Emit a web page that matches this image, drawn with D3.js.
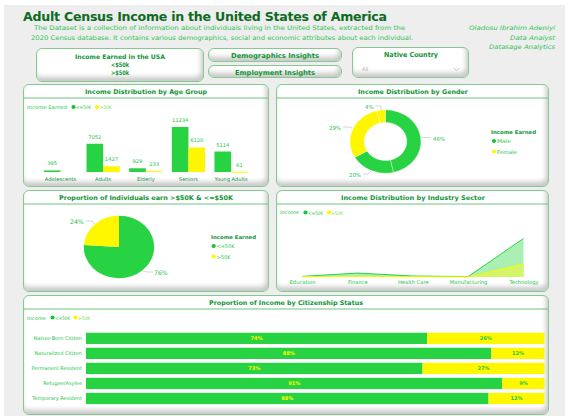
<!DOCTYPE html>
<html><head><meta charset="utf-8">
<script src="https://cdn.jsdelivr.net/npm/d3@7/dist/d3.min.js"></script>
<style>
html,body{margin:0;padding:0;background:#fff;width:577px;height:418px;overflow:hidden}
#wrap{position:relative;width:577px;height:418px}
.bg{position:absolute;left:4px;top:5px;width:561px;height:411px;background:#eeeeee}
.card{position:absolute;box-sizing:border-box;background:#fff;border:1px solid #86c892;border-radius:6px;box-shadow:inset -2px -4px 5px rgba(0,0,0,.22)}
svg{position:absolute;left:0;top:0}
text{font-family:"Comic Sans MS","DejaVu Sans",sans-serif}
</style></head><body><div id="wrap"><div class="bg"></div></div>
<script>
const GREEN="#28d343", YELLOW="#fff700", DARK="#0b6b1f", MID="#0f9436", LIGHT="#25c648";

const ageGroups=["Adolescents","Adults","Elderly","Seniors","Young Adults"];
const ageLow=[395,7052,929,11234,5114];
const ageHigh=[null,1427,233,6120,61];

const genderLabels=["46%","20%","29%","4%"];
const genderValues=[46.4,20.3,29.3,4.0];
const genderGroups=["Male","Male","Female","Female"];

const shareLabels=["<=50K",">50K"];
const shareValues=[76,24];

const sectors=["Education","Finance","Health Care","Manufacturing","Technology"];
const sectorLow=[150,1000,250,100,9800];
const sectorHigh=[50,180,60,30,3300];

const statuses=["Native-Born Citizen","Naturalized Citizen","Permanent Resident","Refugee/Asylee","Temporary Resident"];
const statusLow=[74.4,88.4,73.4,90.8,87.8];
const statusHigh=[25.6,11.6,26.6,9.2,12.2];

const wrap=d3.select("#wrap");
function card(x,y,w,h){wrap.append("div").attr("class","card").style("left",x+"px").style("top",y+"px").style("width",w+"px").style("height",h+"px");}
[[36,48,168,34],[208,48,134,14],[208,65,134,13],[352,47,117,31],[23,84,246,103],[276,84,273,103],[23,190,246,102],[276,190,273,102],[23,295,526,120]].forEach(c=>card(...c));

const svg=wrap.append("svg").attr("width",577).attr("height",418);
function T(s,x,y,size,fill,o={}){
  const t=svg.append("text").attr("x",x).attr("y",y).attr("font-size",size).attr("fill",fill)
   .attr("text-anchor",o.a||"start").attr("font-weight",o.b?"bold":"normal").attr("font-style",o.i?"italic":"normal").text(s);
  if(o.w){t.attr("textLength",o.w).attr("lengthAdjust",o.s?"spacing":"spacingAndGlyphs");}
  return t;
}
function hline(x1,x2,y,c,w){svg.append("line").attr("x1",x1).attr("x2",x2).attr("y1",y).attr("y2",y).attr("stroke",c).attr("stroke-width",w||1);}
function dot(x,y,c){svg.append("circle").attr("cx",x).attr("cy",y).attr("r",2.1).attr("fill",c);}

T("Adult Census Income in the United States of America",205,21,12.6,DARK,{a:"middle",b:1,w:364,s:1});
T("The Dataset is a collection of information about individuals living in the United States, extracted from the",219.5,30,6.3,"#2fc455",{a:"middle",w:371});
T("2020 Census database. It contains various demographics, social and economic attributes about each individual.",222,39.5,6.3,"#2fc455",{a:"middle",w:382});
T("Oladosu Ibrahim Adeniyi",555,30,6.2,"#2fc455",{a:"end",i:1,w:86});
T("Data Analyst",555,39.5,6.2,"#2fc455",{a:"end",i:1,w:45});
T("Datasage Analytics",555,49,6.2,"#2fc455",{a:"end",i:1,w:66});

T("Income Earned in the USA",120,59,6.2,MID,{a:"middle",b:1,w:90});
T("<$50k",120,67,6.2,MID,{a:"middle",b:1,w:18});
T(">$50k",120,75,6.2,MID,{a:"middle",b:1,w:18});
T("Demographics Insights",275,58,6.8,MID,{a:"middle",b:1,w:88});
T("Employment Insights",275,75,6.8,MID,{a:"middle",b:1,w:80});
T("Native Country",411,57,6.8,MID,{a:"middle",b:1,w:54});
T("All",362,71,5,"#aaaaaa");
svg.append("path").attr("d","M453.5 68l3 2.5l3-2.5").attr("fill","none").attr("stroke","#bbbbbb").attr("stroke-width",.8);

[["Income Distribution by Age Group",146,94,122,98,24,268],["Income Distribution by Gender",413,94,110,98,277,548],
 ["Proportion of Individuals earn >$50K & <=$50K",146,199.5,174,204,24,268],["Income Distribution by Industry Sector",413,199.5,144,204,277,548],
 ["Proportion of Income by Citizenship Status",286,304.5,154,309,24,548]].forEach(d=>{
  T(d[0],d[1],d[2],6.4,MID,{a:"middle",b:1,w:d[3]});
  hline(d[5],d[6],d[4],"#6cc47e",1);
});

// Age chart
T("Income Earned",27,109,4.8,LIGHT,{w:40});
dot(73.5,107,"#17c23a");T("<=50K",76,109,4.8,LIGHT,{w:15});
dot(97,107,YELLOW);T(">50K",99.5,109,4.8,"#7ada4a",{w:12});
const ax=d3.scaleBand().domain(ageGroups).range([39.6,252]).paddingInner(.22).paddingOuter(.1);
const ay=d3.scaleLinear().domain([0,11234]).range([172,127]);
const bw=ax.bandwidth()/2;
const ag=svg.append("g");
ageGroups.forEach((g,i)=>{
  ag.append("rect").attr("x",ax(g)).attr("width",bw).attr("y",ay(ageLow[i])).attr("height",172-ay(ageLow[i])).attr("fill",GREEN);
  T(d3.format("d")(ageLow[i]),ax(g)+bw/2,ay(ageLow[i])-5,5.2,LIGHT,{a:"middle"});
  if(ageHigh[i]!=null){
    ag.append("rect").attr("x",ax(g)+bw).attr("width",bw).attr("y",ay(ageHigh[i])).attr("height",Math.max(1,172-ay(ageHigh[i]))).attr("fill",YELLOW);
    T(d3.format("d")(ageHigh[i]),ax(g)+bw*1.5,ay(ageHigh[i])-5,5.2,LIGHT,{a:"middle"});
  }
});
const axA=svg.append("g").attr("transform","translate(0,172)").call(d3.axisBottom(ax).tickSize(0).tickPadding(5));
axA.select(".domain").remove();
axA.selectAll("text").attr("font-size",5.2).attr("fill",MID).attr("font-family",'"Comic Sans MS","DejaVu Sans",sans-serif');

// Donut
const pie=d3.pie().sort(null);
const dg=svg.append("g").attr("transform","translate(385.5,141.5) scale(1,.893)");
const darc=d3.arc().innerRadius(21.3).outerRadius(35.5);
dg.selectAll("path").data(pie(genderValues)).join("path").attr("d",darc)
  .attr("fill",(d,i)=>genderGroups[i]==="Male"?GREEN:YELLOW).attr("stroke","#fff").attr("stroke-width",.4);
const lead=(p)=>svg.append("path").attr("d",p).attr("fill","none").attr("stroke","#bbbbbb").attr("stroke-width",.6);
lead("M422 137.5H431");lead("M363 174H368L371 171");lead("M343 127H350L352 128");lead("M375 106H381V110");
T(genderLabels[0],433,140.5,5.4,LIGHT);T(genderLabels[1],349,177,5.4,LIGHT);T(genderLabels[2],329,130,5.4,LIGHT);T(genderLabels[3],365,109,5.4,LIGHT);
T("Income Earned",491,133.5,5.2,MID,{b:1,w:45});
dot(494,141,"#17c23a");T("Male",497,143,5,LIGHT,{w:14});
dot(494,151.5,YELLOW);T("Female",497,153.5,5,LIGHT,{w:20});

// Pie
const pg=svg.append("g").attr("transform","translate(119,247) scale(1,.89)");
pg.selectAll("path").data(pie(shareValues)).join("path").attr("d",d3.arc().innerRadius(0).outerRadius(35.2))
  .attr("fill",(d,i)=>i?YELLOW:GREEN);
lead("M86 221H92L95 224");lead("M144 271L147 272H153");
T("24%",70,224,6.2,LIGHT);T("76%",154,275,6.2,LIGHT);
T("Income Earned",211,239,5.2,MID,{b:1,w:45});
dot(213.7,246,"#17c23a");T(shareLabels[0],216.5,248,5,LIGHT,{w:18});
dot(213.7,256.5,YELLOW);T(shareLabels[1],216.5,258.5,5,LIGHT,{w:14});

// Area
T("Income",280,214,4.8,LIGHT,{w:19});
dot(305.5,212.5,"#17c23a");T("<=50K",308,214.5,4.8,LIGHT,{w:15});
dot(329,212.5,YELLOW);T(">50K",331,214.5,4.8,"#7ada4a",{w:12});
const sx=d3.scalePoint().domain(sectors).range([302,523.5]);
const sy=d3.scaleLinear().domain([0,9800]).range([277,238.5]);
const area=(vals)=>d3.area().x((d,i)=>sx(sectors[i])).y0(277).y1(d=>sy(d)).curve(d3.curveLinear)(vals);
const line=(vals)=>d3.line().x((d,i)=>sx(sectors[i])).y(d=>sy(d)).curve(d3.curveLinear)(vals);
svg.append("path").attr("d",area(sectorLow)).attr("fill","#aaf0b4");
svg.append("path").attr("d",area(sectorHigh)).attr("fill","#d2f56a");
svg.append("path").attr("d",line(sectorLow)).attr("fill","none").attr("stroke",GREEN).attr("stroke-width",1);
svg.append("path").attr("d",line(sectorHigh)).attr("fill","none").attr("stroke",YELLOW).attr("stroke-width",1);
const axS=svg.append("g").attr("transform","translate(0,277)").call(d3.axisBottom(sx).tickSize(0).tickPadding(3));
axS.select(".domain").remove();
axS.selectAll("text").attr("font-size",5.2).attr("fill",LIGHT).attr("font-family",'"Comic Sans MS","DejaVu Sans",sans-serif');

// Stacked 100%
T("Income",27,319.5,4.8,LIGHT,{w:19});
dot(52.5,317.5,"#17c23a");T("<=50K",55,319.5,4.8,LIGHT,{w:15});
dot(75.5,317.5,YELLOW);T(">50K",78,319.5,4.8,"#7ada4a",{w:12});
const hx=d3.scaleLinear().domain([0,100]).range([86,544.5]);
const hy=d3.scaleBand().domain(statuses).range([331.2,405.6]).paddingInner(.25).paddingOuter(.1);
statuses.forEach((s,i)=>{
  const y=hy(s),h=hy.bandwidth(),lo=statusLow[i],hi=statusHigh[i];
  svg.append("rect").attr("x",hx(0)).attr("y",y).attr("width",hx(lo)-hx(0)).attr("height",h).attr("fill",GREEN);
  svg.append("rect").attr("x",hx(lo)).attr("y",y).attr("width",hx(100)-hx(lo)).attr("height",h).attr("fill",YELLOW);
  T(Math.round(lo)+"%",hx(lo/2),y+h/2+1.8,5,YELLOW,{a:"middle",b:1});
  T(Math.round(hi)+"%",hx(lo+hi/2),y+h/2+1.8,5,LIGHT,{a:"middle",b:1});
});
const axH=svg.append("g").attr("transform","translate(86,0)").call(d3.axisLeft(hy).tickSize(0).tickPadding(4));
axH.select(".domain").remove();
axH.selectAll("text").attr("font-size",5).attr("fill",LIGHT).attr("font-family",'"Comic Sans MS","DejaVu Sans",sans-serif');
</script></body></html>
